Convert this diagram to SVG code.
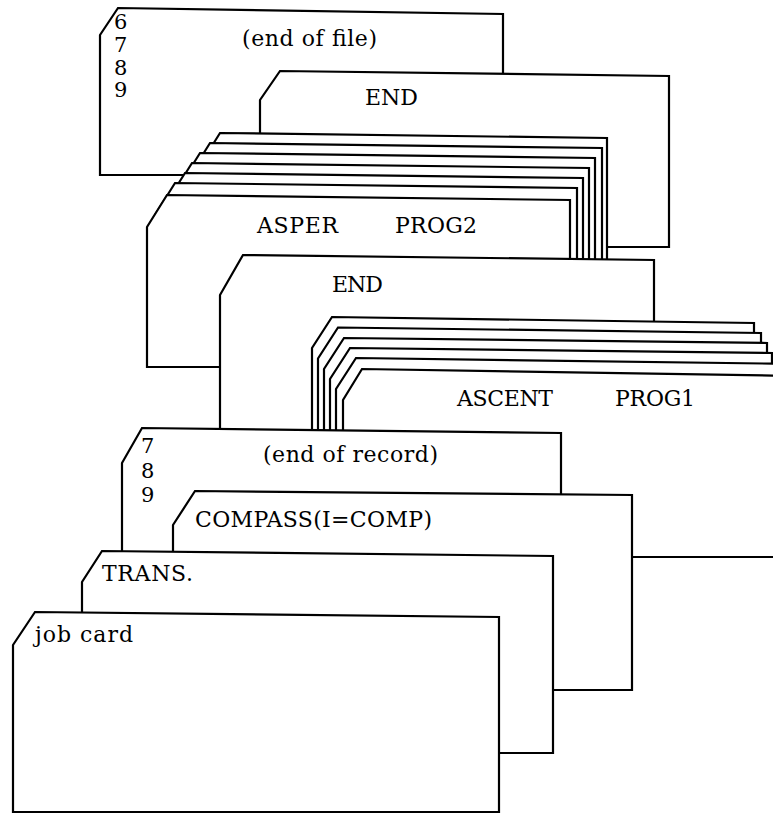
<svg xmlns="http://www.w3.org/2000/svg" width="773" height="816" viewBox="0 0 773 816">
<style>
.c{fill:#fff;stroke:#000;stroke-width:2.2;stroke-linejoin:miter}
.t{font-family:"DejaVu Serif","Liberation Serif",serif;font-size:22px;fill:#000}
.d{font-size:21px}
</style>
<rect width="773" height="816" fill="#fff"/>
<g id="card-end-of-file">
<polygon class="c" points="100,175 100,35 118,8 503,14 503,175"/>
<text class="t d" x="114" y="29"><tspan x="114" y="29">6</tspan><tspan x="114" y="52">7</tspan><tspan x="114" y="75">8</tspan><tspan x="114" y="97">9</tspan></text>
<text class="t" x="242" y="46" textLength="135">(end of file)</text>
</g>
<g id="card-end-2">
<polygon class="c" points="260,247 260,100 280,71 669,76 669,247"/>
<text class="t" x="365" y="105" textLength="53">END</text>
</g>
<g id="deck-asper">
<polygon class="c" points="220,133 607,138 607,300 200,300 200,165"/>
<polygon class="c" points="210,143 602,148 602,300 190,300 190,175"/>
<polygon class="c" points="200,153 595,158 595,300 180,300 180,185"/>
<polygon class="c" points="192,163 589,168 589,300 172,300 172,195"/>
<polygon class="c" points="185,173 583,178 583,300 165,300 165,205"/>
<polygon class="c" points="175,183 577,188 577,300 155,300 155,215"/>
<polygon class="c" points="147,367 147,227 167,195 570,200 570,367"/>
<text class="t" x="257" y="233" textLength="81">ASPER</text>
<text class="t" x="395" y="233" textLength="82">PROG2</text>
</g>
<g id="card-end-1">
<polygon class="c" points="220,430 220,295 243,255 654,260 654,430"/>
<text class="t" x="332" y="292" textLength="51">END</text>
</g>
<g id="deck-ascent">
<polygon class="c" points="332,317 754,323 754,500 312,500 312,348"/>
<polygon class="c" points="338,327.5 761,333 761,500 318,500 318,358.5"/>
<polygon class="c" points="344,338 767,343 767,500 324,500 324,369"/>
<polygon class="c" points="350,348 772,353 772,500 330,500 330,379"/>
<polygon class="c" points="356,358 800,364 800,500 336,500 336,389"/>
<polygon class="c" points="343,557 343,400 362,369 800,376 800,557"/>
<text class="t" x="457" y="406" textLength="96">ASCENT</text>
<text class="t" x="615" y="406" textLength="80">PROG1</text>
</g>
<g id="card-end-of-record">
<polygon class="c" points="122,560 122,463 142,428 561,433 561,560"/>
<text class="t d" x="141" y="453"><tspan x="141" y="453">7</tspan><tspan x="141" y="478">8</tspan><tspan x="141" y="502">9</tspan></text>
<text class="t" x="263" y="462" textLength="175">(end of record)</text>
</g>
<g id="card-compass">
<polygon class="c" points="173,690 173,525 195,491 632,495 632,690"/>
<text class="t" x="195" y="527" textLength="237">COMPASS(I=COMP)</text>
</g>
<g id="card-trans">
<polygon class="c" points="82,753 82,582 102,551 553,556 553,753"/>
<text class="t" x="102" y="581" textLength="91">TRANS.</text>
</g>
<g id="card-job">
<polygon class="c" points="13,812 13,645 35,612 499,617 499,812"/>
<text class="t" x="35" y="642" textLength="98">job card</text>
</g>
</svg>
